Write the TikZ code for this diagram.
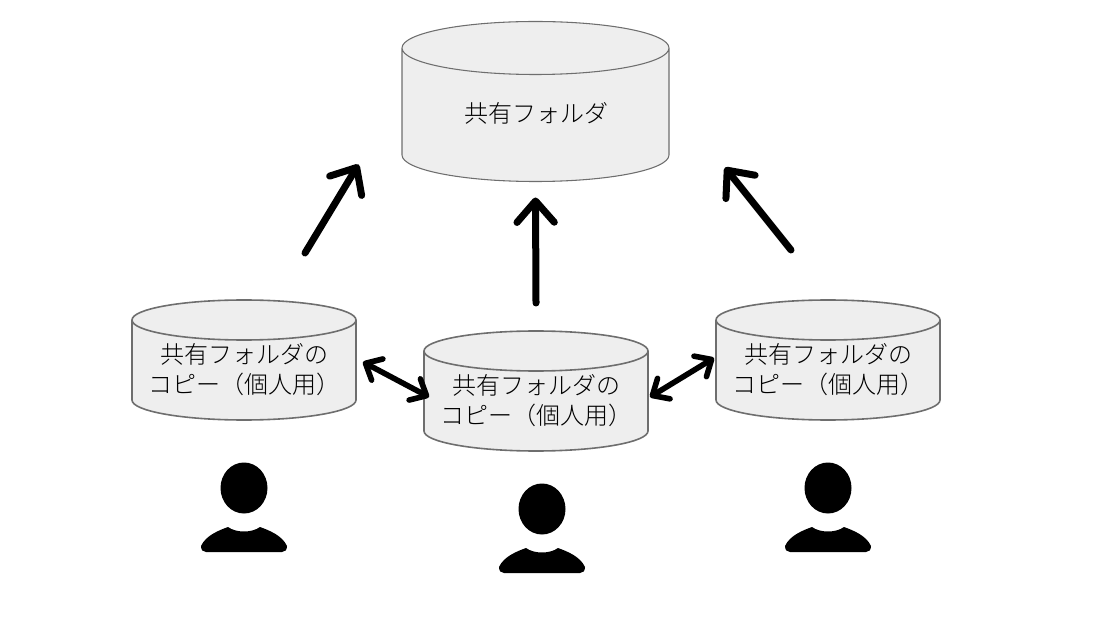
\documentclass[tikz,border=0pt]{standalone}
\usepackage{fontspec}
\setmainfont{Noto Sans CJK JP Light}
\usetikzlibrary{arrows.meta, calc, positioning}
\definecolor{boxfill}{HTML}{EEEEEE}
\definecolor{boxline}{HTML}{6E6E6E}
\tikzstyle{shared} = [rectangle, minimum width=200.25pt, minimum height=120pt, inner sep=0pt, outer sep=0pt]
\tikzstyle{copybox} = [rectangle, minimum width=168pt, minimum height=90pt, inner sep=0pt, outer sep=0pt]
\tikzstyle{folderline} = [draw=boxline, fill=boxfill]
\tikzstyle{foldertext} = [align=center, font=\fontsize{18pt}{22.5pt}\selectfont, inner sep=0pt]
\tikzstyle{arrow} = [line width=5.25pt, line cap=round, -{Straight Barb[round,length=16pt,width=28pt]}]
\tikzstyle{dblarrow} = [line width=4.2pt, line cap=round, {Straight Barb[round,length=10pt,width=18pt]}-{Straight Barb[round,length=10pt,width=18pt]}]
\tikzset{person/.pic={
	\fill (0,0) ellipse [x radius=23.5, y radius=25.5];
	\fill (-43,-58) .. controls (-38,-47) and (-24,-42) .. (-16,-39) .. controls (-8,-45) and (8,-45) .. (16,-39) .. controls (24,-42) and (38,-47) .. (43,-58) .. controls (43,-62) and (41,-64) .. (38,-64) -- (-38,-64) .. controls (-41,-64) and (-43,-62) .. (-43,-58) -- cycle;
}}
\begin{document}
\begin{tikzpicture}[x=0.75pt, y=0.75pt]
	\useasboundingbox (0,0) rectangle (1098,643);
	\node (Shared) [shared] at (535.5,541.5) {};
	\node (CopyMid) [copybox] at (536,252) {};
	\node (CopyLeft) [copybox] at (244,283) {};
	\node (CopyRight) [copybox] at (828,283) {};

	% bodies and top faces
	\foreach \name/\rx/\ry/\lw in {Shared/133.5/26.5/0.8, CopyMid/112/20/1.2, CopyLeft/112/20/1.2, CopyRight/112/20/1.2}{
		\draw [folderline, line width=\lw pt] ($(\name.north west) + (0,-\ry)$) -- ($(\name.south west) + (0,\ry)$) arc [start angle=180, end angle=360, x radius=\rx, y radius=\ry] -- ($(\name.north east) + (0,-\ry)$) arc [start angle=0, end angle=180, x radius=\rx, y radius=\ry] arc [start angle=180, end angle=360, x radius=\rx, y radius=\ry];
	}

	\node (SharedText) [foldertext] at ($(Shared.center) + (1,-11.5)$) {共有フォルダ};
	\node (CopyMidText) [foldertext] at ($(CopyMid.center) + (0,-10)$) {共有フォルダの\\コピー（個人用）};
	\node (CopyLeftText) [foldertext] at ($(CopyLeft.center) + (0,-10)$) {共有フォルダの\\コピー（個人用）};
	\node (CopyRightText) [foldertext] at ($(CopyRight.center) + (0,-10)$) {共有フォルダの\\コピー（個人用）};

	\pic at ($(CopyLeft.south) + (0,-68)$) {person};
	\pic at ($(CopyMid.south) + (6,-58)$) {person};
	\pic at ($(CopyRight.south) + (0,-68)$) {person};

	\draw [arrow] ($(CopyLeft.north) + (61,47)$) -- ($(Shared.south) + (-177,17)$);
	\draw [arrow] ($(CopyMid.north) + (0,28)$) -- ($(Shared.south) + (0,-16)$);
	\draw [arrow] ($(CopyRight.north) + (-37,50)$) -- ($(Shared.south) + (189.5,14)$);
	\draw [dblarrow] ($(CopyLeft.center) + (119,-2)$) -- ($(CopyMid.center) + (-107,-6)$);
	\draw [dblarrow] ($(CopyMid.center) + (114,-6)$) -- ($(CopyRight.center) + (-114,2)$);
\end{tikzpicture}
\end{document}
